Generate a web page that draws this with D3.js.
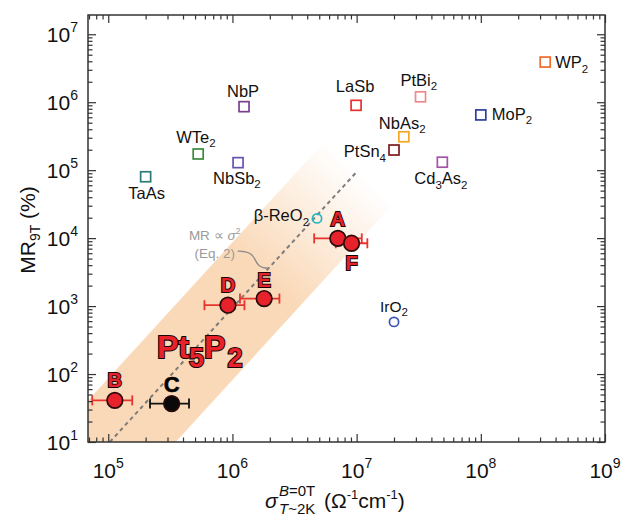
<!DOCTYPE html>
<html>
<head>
<meta charset="utf-8">
<script src="https://cdn.jsdelivr.net/npm/d3@7/dist/d3.min.js"></script>
<style>
  body { margin: 0; background: #fff; }
  svg { display: block; font-family: "Liberation Sans", Arial, sans-serif; }
</style>
</head>
<body>
<div id="chart"></div>
<script>
// ---- data ----
var materials = ["TaAs", "WTe_2", "NbP", "NbSb_2", "LaSb", "PtBi_2", "NbAs_2", "PtSn_4", "Cd_3As_2", "MoP_2", "WP_2"];
var materialSigma = [2.0e5, 5.3e5, 1.24e6, 1.11e6, 9.9e6, 3.27e7, 2.4e7, 2.0e7, 4.9e7, 1.0e8, 3.3e8];
var materialMR = [8.0e4, 1.73e5, 8.6e5, 1.29e5, 9.0e5, 1.2e6, 3.1e5, 1.98e5, 1.31e5, 6.5e5, 3.9e6];

var oxides = ["β-ReO_2", "IrO_2"];
var oxideSigma = [4.8e6, 2.0e7];
var oxideMR = [1.95e4, 585];

var samples = ["A", "B", "C", "D", "E", "F"];
var sampleSigma = [7.06e6, 1.13e5, 3.24e5, 9.2e5, 1.8e6, 9.1e6];
var sampleMR = [9.9e3, 41, 36.8, 1030, 1290, 8400];
var sampleSigmaLo = [4.55e6, 7.43e4, 2.17e5, 5.95e5, 1.15e6, 6.8e6];
var sampleSigmaHi = [1.1e7, 1.56e5, 4.47e5, 1.25e6, 2.39e6, 1.22e7];

// MR ∝ σ² guide (dashed) and shaded band corners
var guideSigma = [1.03e5, 1.0e7];
var guideMR = [10, 9.43e4];
var bandSigma = [2.0e4, 5.5e6, 2.0e7, 1.0e5];
var bandMR = [3.46, 2.62e5, 3.27e4, 0.82];

var xTicks = [1e5, 1e6, 1e7, 1e8, 1e9];
var yTicks = [1e1, 1e2, 1e3, 1e4, 1e5, 1e6, 1e7];

// ---- styling ----
var markerColor = {
    "TaAs": "#2b7b78", "WTe_2": "#3b8a3c", "NbP": "#7b3f8c", "NbSb_2": "#6a52b2",
    "LaSb": "#e8302e", "PtBi_2": "#ef8a8c", "NbAs_2": "#f5a623", "PtSn_4": "#7a1c1c",
    "Cd_3As_2": "#a452aa", "MoP_2": "#2d3f9e", "WP_2": "#f06a2a",
    "β-ReO_2": "#22b8c2", "IrO_2": "#3a52b4"
};
// label offsets in px: [dx, dy, anchor]
var labelPos = {
    "TaAs": [1, 22, "middle"], "WTe_2": [-22, -11, "start"], "NbP": [-1, -10, "middle"],
    "NbSb_2": [-25, 21, "start"], "LaSb": [-1, -13, "middle"], "PtBi_2": [-20, -11, "start"],
    "NbAs_2": [-25, -8, "start"], "PtSn_4": [-8, 7, "end"], "Cd_3As_2": [-28, 22, "start"],
    "MoP_2": [11, 5, "start"], "WP_2": [10, 6, "start"],
    "β-ReO_2": [-8, 3, "end"], "IrO_2": [-14, -10, "start"]
};
var sampleLabelDy = { "A": -12, "B": -13, "C": -12, "D": -13, "E": -12, "F": 27 };

var width = 622, height = 517;
var x = d3.scaleLog().domain([6.87e4, 1e9]).range([88, 605]);
var y = d3.scaleLog().domain([10, 1.92e7]).range([442, 15]);

var svg = d3.select("#chart").append("svg")
    .attr("width", width)
    .attr("height", height);

var defs = svg.append("defs");
defs.append("clipPath").attr("id", "plotClip")
    .append("rect")
    .attr("x", x.range()[0]).attr("y", y.range()[1])
    .attr("width", x.range()[1] - x.range()[0])
    .attr("height", y.range()[0] - y.range()[1]);

// gradient along band direction, fading toward the upper end
var capL = [x(bandSigma[1]), y(bandMR[1])], capR = [x(bandSigma[2]), y(bandMR[2])];
var capMid = [(capL[0] + capR[0]) / 2, (capL[1] + capR[1]) / 2];
var gdx = x(guideSigma[1]) - x(guideSigma[0]), gdy = y(guideMR[1]) - y(guideMR[0]);
var gl = Math.sqrt(gdx * gdx + gdy * gdy);
var fadeLen = 140;
var bandColor = "#fad9b8";
var grad = defs.append("linearGradient").attr("id", "bandGrad")
    .attr("gradientUnits", "userSpaceOnUse")
    .attr("x1", capMid[0] - fadeLen * gdx / gl).attr("y1", capMid[1] - fadeLen * gdy / gl)
    .attr("x2", capMid[0]).attr("y2", capMid[1]);
grad.append("stop").attr("offset", 0).attr("stop-color", bandColor).attr("stop-opacity", 1);
grad.append("stop").attr("offset", 0.45).attr("stop-color", bandColor).attr("stop-opacity", 0.55);
grad.append("stop").attr("offset", 1).attr("stop-color", bandColor).attr("stop-opacity", 0);

var plot = svg.append("g").attr("clip-path", "url(#plotClip)");

plot.append("path")
    .attr("d", d3.line()(bandSigma.map(function (s, i) { return [x(s), y(bandMR[i])]; })) + "Z")
    .attr("fill", "url(#bandGrad)");

plot.append("path")
    .attr("d", d3.line()(guideSigma.map(function (s, i) { return [x(s), y(guideMR[i])]; })))
    .attr("fill", "none")
    .attr("stroke", "#7d7d7d")
    .attr("stroke-width", 2)
    .attr("stroke-dasharray", "4,3.5");

// annotation "MR ∝ σ² (Eq. 2)"
var annX = x(7.2e5), annY = y(9350);
var ann = svg.append("g").attr("fill", "#9a9a9a").attr("font-size", 13.5).attr("text-anchor", "middle");
var t1 = ann.append("text").attr("x", annX).attr("y", annY);
t1.append("tspan").text("MR ∝ ");
t1.append("tspan").attr("font-style", "italic").text("σ");
t1.append("tspan").attr("font-size", 9).attr("dy", -6).text("2");
ann.append("text").attr("x", annX).attr("y", annY + 18).text("(Eq. 2)");
var ex = x(1.96e6), ey = y(3614);
svg.append("path")
    .attr("d", "M" + (annX + 23) + "," + (annY + 11) + " C" + (annX + 48) + "," + (annY + 11) + " " +
        (ex - 20) + "," + ey + " " + ex + "," + ey)
    .attr("fill", "none").attr("stroke", "#8a8a8a").attr("stroke-width", 1.3);

// helper: text with "_n" subscripts
function subText(sel, str, size, subSize, shift) {
    var parts = str.split(/_(\d)/);
    parts.forEach(function (p, i) {
        if (p === "") return;
        if (i % 2 === 1) {
            sel.append("tspan").attr("font-size", subSize).attr("dy", shift).text(p);
        } else {
            var ts = sel.append("tspan").text(p);
            if (i > 0) ts.attr("dy", -shift);
        }
    });
}

// open squares
var sq = svg.append("g");
materials.forEach(function (m, i) {
    var cx = x(materialSigma[i]), cy = y(materialMR[i]);
    sq.append("rect")
        .attr("x", cx - 5).attr("y", cy - 5).attr("width", 10).attr("height", 10)
        .attr("fill", "none").attr("stroke", markerColor[m]).attr("stroke-width", 1.7);
    var lp = labelPos[m];
    var t = sq.append("text").attr("x", cx + lp[0]).attr("y", cy + lp[1])
        .attr("text-anchor", lp[2]).attr("font-size", 16.5).attr("fill", "#111");
    subText(t, m, 16.5, 11.5, 4.5);
});

// open circles (oxides)
oxides.forEach(function (m, i) {
    var cx = x(oxideSigma[i]), cy = y(oxideMR[i]);
    sq.append("circle").attr("cx", cx).attr("cy", cy).attr("r", 4.6)
        .attr("fill", "none").attr("stroke", markerColor[m]).attr("stroke-width", 1.7);
    var lp = labelPos[m];
    var t = sq.append("text").attr("x", cx + lp[0]).attr("y", cy + lp[1])
        .attr("text-anchor", lp[2]).attr("font-size", m === "IrO_2" ? 15.5 : 16.5).attr("fill", "#111");
    subText(t, m, 16.5, 11.5, 4.5);
});

// Pt5P2 samples with error bars
var smp = svg.append("g");
samples.forEach(function (s, i) {
    var col = s === "C" ? "#111" : "#e8342f";
    var cy = y(sampleMR[i]);
    var x0 = x(sampleSigmaLo[i]), x1 = x(sampleSigmaHi[i]);
    smp.append("line").attr("x1", x0).attr("x2", x1).attr("y1", cy).attr("y2", cy)
        .attr("stroke", col).attr("stroke-width", 1.8);
    [x0, x1].forEach(function (xx) {
        smp.append("line").attr("x1", xx).attr("x2", xx).attr("y1", cy - 5).attr("y2", cy + 5)
            .attr("stroke", col).attr("stroke-width", 1.8);
    });
});
samples.forEach(function (s, i) {
    smp.append("circle")
        .attr("cx", x(sampleSigma[i])).attr("cy", y(sampleMR[i])).attr("r", 7.8)
        .attr("fill", s === "C" ? "#0a0a0a" : "#e8222a")
        .attr("stroke", "#2a0a0a").attr("stroke-width", 1.7);
});
samples.forEach(function (s, i) {
    smp.append("text")
        .attr("x", x(sampleSigma[i])).attr("y", y(sampleMR[i]) + sampleLabelDy[s])
        .attr("text-anchor", "middle").attr("font-size", s === "C" ? 22 : 20).attr("font-weight", "bold")
        .attr("fill", s === "C" ? "#000" : "#e8222a")
        .attr("stroke", "#1a0505").attr("stroke-width", s === "C" ? 0.6 : 2)
        .attr("paint-order", "stroke")
        .text(s);
});

// big Pt5P2 label
var big = svg.append("text")
    .attr("x", x(2.47e5)).attr("y", y(171))
    .attr("font-size", 32).attr("font-weight", "bold")
    .attr("fill", "#e8222a").attr("stroke", "#1a0505").attr("stroke-width", 2.2)
    .attr("paint-order", "stroke");
big.append("tspan").text("Pt");
big.append("tspan").attr("font-size", 27).attr("dy", 9).text("5");
big.append("tspan").attr("dy", -9).text("P");
big.append("tspan").attr("font-size", 27).attr("dy", 9).attr("dx", 2).text("2");

// ---- axes ----
function minorTicks(scale) {
    var d = scale.domain(), out = [];
    for (var e = Math.floor(Math.log10(d[0])); e <= Math.ceil(Math.log10(d[1])); e++) {
        for (var k = 2; k <= 9; k++) {
            var v = k * Math.pow(10, e);
            if (v > d[0] && v < d[1]) out.push(v);
        }
    }
    return out;
}
var axisColor = "#333";
function styleAxis(g) {
    g.select(".domain").remove();
    g.selectAll(".tick line").attr("stroke", axisColor).attr("stroke-width", 1.2);
}
var bottomY = y.range()[0], topY = y.range()[1], leftX = x.range()[0], rightX = x.range()[1];

svg.append("g").attr("transform", "translate(0," + bottomY + ")")
    .call(d3.axisBottom(x).tickValues(xTicks).tickSize(-8).tickFormat("")).call(styleAxis);
svg.append("g").attr("transform", "translate(0," + bottomY + ")")
    .call(d3.axisBottom(x).tickValues(minorTicks(x)).tickSize(-4.5).tickFormat("")).call(styleAxis);
svg.append("g").attr("transform", "translate(0," + topY + ")")
    .call(d3.axisTop(x).tickValues(xTicks).tickSize(-8).tickFormat("")).call(styleAxis);
svg.append("g").attr("transform", "translate(0," + topY + ")")
    .call(d3.axisTop(x).tickValues(minorTicks(x)).tickSize(-4.5).tickFormat("")).call(styleAxis);
svg.append("g").attr("transform", "translate(" + leftX + ",0)")
    .call(d3.axisLeft(y).tickValues(yTicks).tickSize(-8).tickFormat("")).call(styleAxis);
svg.append("g").attr("transform", "translate(" + leftX + ",0)")
    .call(d3.axisLeft(y).tickValues(minorTicks(y)).tickSize(-4.5).tickFormat("")).call(styleAxis);
svg.append("g").attr("transform", "translate(" + rightX + ",0)")
    .call(d3.axisRight(y).tickValues(yTicks).tickSize(-8).tickFormat("")).call(styleAxis);
svg.append("g").attr("transform", "translate(" + rightX + ",0)")
    .call(d3.axisRight(y).tickValues(minorTicks(y)).tickSize(-4.5).tickFormat("")).call(styleAxis);

svg.append("rect")
    .attr("x", leftX).attr("y", topY).attr("width", rightX - leftX).attr("height", bottomY - topY)
    .attr("fill", "none").attr("stroke", axisColor).attr("stroke-width", 1.5);

// tick labels 10^n
function powLabel(sel, v) {
    sel.append("tspan").text("10");
    sel.append("tspan").attr("font-size", 14).attr("dy", -10).text(Math.round(Math.log10(v)));
}
svg.append("g").selectAll("text").data(xTicks).enter().append("text")
    .attr("x", function (d) { return x(d); }).attr("y", bottomY + 36)
    .attr("text-anchor", "middle").attr("font-size", 21).attr("fill", "#111")
    .each(function (d) { powLabel(d3.select(this), d); });
svg.append("g").selectAll("text").data(yTicks).enter().append("text")
    .attr("x", leftX - 10).attr("y", function (d) { return y(d) + 7.5; })
    .attr("text-anchor", "end").attr("font-size", 21).attr("fill", "#111")
    .each(function (d) { powLabel(d3.select(this), d); });

// axis titles
var yt = svg.append("text")
    .attr("transform", "translate(35,230) rotate(-90)")
    .attr("text-anchor", "middle").attr("font-size", 21).attr("fill", "#111");
yt.append("tspan").text("MR");
yt.append("tspan").attr("font-size", 14).attr("dy", 5).text("9T");
yt.append("tspan").attr("dy", -5).text(" (%)");

var xt = svg.append("g").attr("fill", "#111");
xt.append("text").attr("x", 265).attr("y", 508).attr("font-size", 21).attr("font-style", "italic").text("σ");
var sup = xt.append("text").attr("x", 279).attr("y", 496).attr("font-size", 15);
sup.append("tspan").attr("font-style", "italic").text("B");
sup.append("tspan").text("=0T");
var sub = xt.append("text").attr("x", 279).attr("y", 514).attr("font-size", 15);
sub.append("tspan").attr("font-style", "italic").text("T");
sub.append("tspan").text("~2K");
var unit = xt.append("text").attr("x", 324).attr("y", 508).attr("font-size", 21);
unit.append("tspan").text("(Ω");
unit.append("tspan").attr("font-size", 13).attr("dy", -9).text("-1");
unit.append("tspan").attr("dy", 9).text("cm");
unit.append("tspan").attr("font-size", 13).attr("dy", -9).text("-1");
unit.append("tspan").attr("dy", 9).text(")");
</script>
</body>
</html>
